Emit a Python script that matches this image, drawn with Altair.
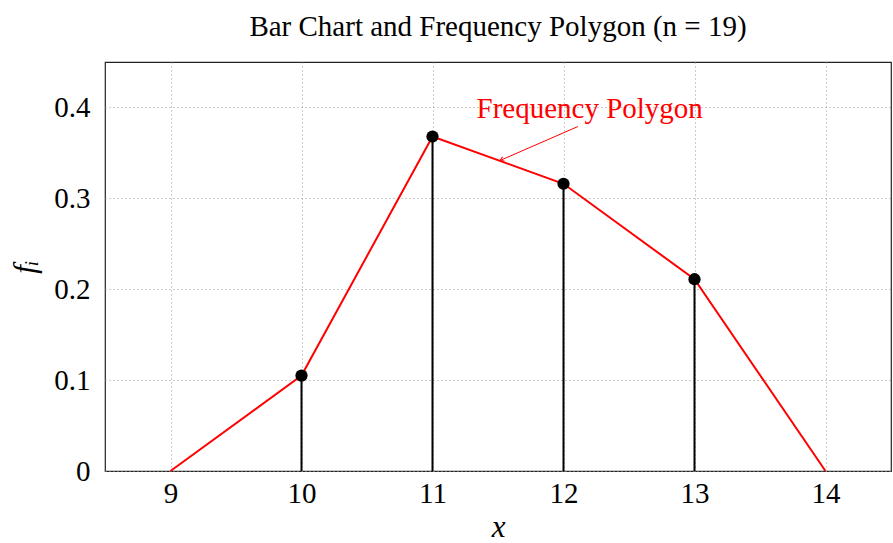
import altair as alt
import pandas as pd

# data
bar_x = [10, 11, 12, 13]
bar_f = [0.105, 0.368, 0.316, 0.211]
poly_x = [9, 10, 11, 12, 13, 14]
poly_f = [0.0, 0.105, 0.368, 0.316, 0.211, 0.0]
x_ticks = [9, 10, 11, 12, 13, 14]
y_ticks = [0, 0.1, 0.2, 0.3, 0.4]
note_text = ["Frequency Polygon"]
note_x = [12.2]
note_y = [0.398]
arrow_x = [12.11]
arrow_y = [0.379]
arrow_x2 = [11.515]
arrow_y2 = [0.3416]

FONT = "Liberation Serif"

bars = pd.DataFrame({"x": bar_x, "f": bar_f, "zero": [0.0] * len(bar_x)})
poly = pd.DataFrame({"x": poly_x, "f": poly_f})
note = pd.DataFrame({"t": note_text, "x": note_x, "y": note_y})
arrow = pd.DataFrame({"x": arrow_x, "y": arrow_y, "x2": arrow_x2, "y2": arrow_y2})

xs = alt.Scale(domain=[8.5, 14.5], nice=False, zero=False)
ys = alt.Scale(domain=[0, 0.45], nice=False)

x_axis = alt.Axis(values=x_ticks, format="d", title="x", titleFontStyle="italic", grid=True,
                  ticks=False, domain=False, labelPadding=8, titlePadding=4)
y_axis = alt.Axis(values=y_ticks, format=".1~f", title="fᵢ", titleFontStyle="italic",
                  grid=True, ticks=False, domain=False, labelPadding=15, titlePadding=12)

stems = alt.Chart(bars).mark_rule(color="black", strokeWidth=2).encode(
    x=alt.X("x:Q", scale=xs, axis=x_axis),
    y=alt.Y("zero:Q", scale=ys, axis=y_axis),
    y2="f:Q",
)

line = alt.Chart(poly).mark_line(color="red", strokeWidth=2).encode(
    x=alt.X("x:Q", scale=xs),
    y=alt.Y("f:Q", scale=ys),
)

pts = alt.Chart(bars).mark_point(filled=True, color="black", size=150, opacity=1).encode(
    x=alt.X("x:Q", scale=xs),
    y=alt.Y("f:Q", scale=ys),
)

label = alt.Chart(note).mark_text(color="red", font=FONT, fontSize=29, baseline="middle").encode(
    x=alt.X("x:Q", scale=xs),
    y=alt.Y("y:Q", scale=ys),
    text="t:N",
)

arrow_line = alt.Chart(arrow).mark_rule(color="red", strokeWidth=1).encode(
    x=alt.X("x:Q", scale=xs),
    y=alt.Y("y:Q", scale=ys),
    x2="x2:Q",
    y2="y2:Q",
)

arrow_head = alt.Chart(arrow).mark_point(
    shape="M-1,-0.6L0,0L-1,0.6", filled=False, color="red", strokeWidth=1,
    size=60, angle=156.4, opacity=1
).encode(
    x=alt.X("x2:Q", scale=xs),
    y=alt.Y("y2:Q", scale=ys),
)

chart = alt.layer(stems, line, pts, arrow_line, arrow_head, label).properties(
    width=786,
    height=409,
    background="white",
    autosize=alt.AutoSizeParams(type="none"),
    padding={"left": 105, "top": 62, "right": 2, "bottom": 72},
    title=alt.TitleParams("Bar Chart and Frequency Polygon (n = 19)", font=FONT,
                          fontSize=29, fontWeight="normal", color="black", offset=20),
).configure_view(
    stroke="#222", strokeWidth=1.2
).configure_axis(
    labelFont=FONT, titleFont=FONT, labelFontSize=29, titleFontSize=31,
    labelColor="black", titleColor="black", titleFontWeight="normal",
    gridColor="#9a9a9a", gridDash=[1, 3], gridWidth=1, gridOpacity=1,
)

chart.save("out.html", embed_options={"renderer": "svg", "actions": False})
